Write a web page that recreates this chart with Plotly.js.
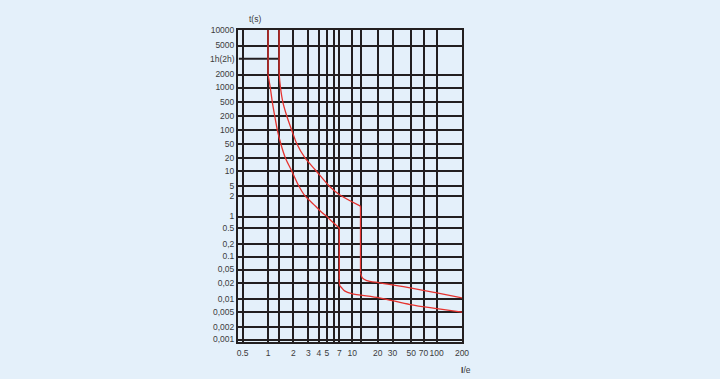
<!DOCTYPE html>
<html>
<head>
<meta charset="utf-8">
<script src="https://cdn.plot.ly/plotly-3.0.1.min.js"></script>
<style>
  html, body { margin: 0; padding: 0; background: #e4f0fa; }
  #chart { width: 720px; height: 379px; }
</style>
</head>
<body>
<div id="chart"></div>
<script>
// ---- Data ----
// X axis: multiples of rated current (I/Ie)
const xGridVals = [0.5, 1, 1.35, 2, 3, 4, 5, 6, 7, 10, 12.5, 20, 30, 50, 70, 100, 200];
const xGridText = ['0.5', '1', '', '2', '3', '4', '5', '', '7', '10', '', '20', '30', '50', '70', '100', '200'];

// Y axis: trip time in seconds (schematic, non-uniform scale)
const yTickTimes  = [10000, 5000, 3600, 2000, 1000, 500, 200, 100, 50, 20, 10, 5, 2, 1, 0.5, 0.2, 0.1, 0.05, 0.02, 0.01, 0.005, 0.002, 0.001];
const yTickLabels = ['10000', '5000', '1h(2h)', '2000', '1000', '500', '200', '100', '50', '20', '10', '5', '2', '1', '0.5', '0,2', '0.1', '0,05', '0,02', '0,01', '0,005', '0,002', '0,001'];

// Lower (minimum) tripping curve: thermal vertical, thermal curve, magnetic vertical, tail
const lowVertX  = [1.0, 1.0];
const lowVertT  = [10000, 2000];
const lowThermX = [1.0, 1.062, 1.122, 1.20, 1.287, 1.416, 1.602, 1.914, 2.319, 2.733, 3.664, 4.355, 4.994, 5.42, 7.0];
const lowThermT = [2000, 1000, 500, 200, 100, 50, 20, 10, 5, 2, 1.41, 1.14, 1.0, 0.836, 0.5];
const lowMagX   = [7.0, 7.0];
const lowMagT   = [0.5, 0.025];
const lowTailX  = [7.0, 7.1, 7.47, 8.18, 9.82, 20.9, 48.5, 100.8, 200];
const lowTailT  = [0.025, 0.0178, 0.0161, 0.0139, 0.0125, 0.0104, 0.0074, 0.006, 0.005];

// Upper (maximum) tripping curve
const highVertX  = [1.352, 1.352];
const highVertT  = [10000, 2400];
const highThermX = [1.352, 1.357, 1.404, 1.496, 1.669, 1.93, 2.195, 2.733, 3.664, 5.42, 7.13, 12.5];
const highThermT = [2400, 2000, 1000, 500, 200, 93, 50, 20, 10.5, 4.64, 2.14, 1.41];
const highMagX   = [12.5, 12.5];
const highMagT   = [1.41, 0.0406];
const highTailX  = [12.5, 13.13, 14.82, 20.9, 48.5, 100.8, 200];
const highTailT  = [0.0406, 0.0282, 0.0234, 0.02, 0.0161, 0.0129, 0.0104];

// Partial "1h(2h)" grid line (from left edge to the upper curve)
const hourLineX = [0.45, 1.352];
const hourLineT = [3600, 3600];

// ---- Schematic y scale (layout) ----
const yScalePos = [312, 296.5, 283.2, 267.5, 254.5, 240.2, 226, 212.2, 198.2, 184.3, 170.8, 156, 146.3, 125.5, 113.9, 97.9, 85.5, 72.5, 59.2, 43.3, 29.8, 14.9, 2.5];

function toAxis(t) {
  const lt = Math.log10(t);
  for (let i = 0; i < yTickTimes.length - 1; i++) {
    const a = Math.log10(yTickTimes[i]), b = Math.log10(yTickTimes[i + 1]);
    if (lt <= a && lt >= b) {
      const f = (a - lt) / (a - b);
      return yScalePos[i] + f * (yScalePos[i + 1] - yScalePos[i]);
    }
  }
  return lt > Math.log10(yTickTimes[0]) ? yScalePos[0] : yScalePos[yScalePos.length - 1];
}

const INK = '#231f20';
const RED = '#e5332f';
const TXT = '#3c3c3c';
const FONT = 'Liberation Sans, Arial, sans-serif';

const gridTickVals = [], gridTickText = [];
yTickTimes.forEach((t, i) => {
  if (t !== 3600) { gridTickVals.push(yScalePos[i]); gridTickText.push(yTickLabels[i]); }
});
const hourIdx = yTickTimes.indexOf(3600);

function seg(xs, ts, smooth, color, width) {
  return {
    x: xs, y: ts.map(toAxis), mode: 'lines',
    line: smooth ? { color: color, width: width, shape: 'spline', smoothing: 0.8 } : { color: color, width: width },
    hoverinfo: 'skip', showlegend: false
  };
}

const traces = [
  seg(hourLineX, hourLineT, false, INK, 2),
  seg(lowVertX, lowVertT, false, RED, 1.3),
  seg(lowThermX, lowThermT, true, RED, 1.3),
  seg(lowMagX, lowMagT, false, RED, 1.3),
  seg(lowTailX, lowTailT, true, RED, 1.3),
  seg(highVertX, highVertT, false, RED, 1.3),
  seg(highThermX, highThermT, true, RED, 1.3),
  seg(highMagX, highMagT, false, RED, 1.3),
  seg(highTailX, highTailT, true, RED, 1.3)
];

const layout = {
  width: 720, height: 379,
  margin: { l: 238, r: 258, t: 30, b: 37, pad: 0 },
  paper_bgcolor: '#e4f0fa',
  plot_bgcolor: '#e4f0fa',
  font: { family: FONT, size: 8.5, color: TXT },
  showlegend: false,
  xaxis: {
    type: 'log',
    range: [Math.log10(0.44), Math.log10(200)],
    tickmode: 'array', tickvals: xGridVals, ticktext: xGridText,
    tickangle: 0,
    showgrid: true, gridcolor: INK, gridwidth: 2,
    showline: true, linecolor: INK, linewidth: 2, mirror: true,
    ticks: '', zeroline: false, ticklabelstandoff: 2,
    tickfont: { family: FONT, size: 8.5, color: TXT }
  },
  yaxis: {
    type: 'linear',
    range: [0, 312],
    tickmode: 'array', tickvals: gridTickVals, ticktext: gridTickText,
    showgrid: true, gridcolor: INK, gridwidth: 2,
    showline: true, linecolor: INK, linewidth: 2, mirror: true,
    ticks: '', zeroline: false, ticklabelstandoff: 0,
    tickfont: { family: FONT, size: 8.5, color: TXT }
  },
  annotations: [
    { text: yTickLabels[hourIdx], xref: 'paper', yref: 'y', x: 0, y: yScalePos[hourIdx], xanchor: 'right', yanchor: 'middle', xshift: -1, showarrow: false, font: { family: FONT, size: 8.5, color: TXT } },
    { text: 't(s)', xref: 'paper', yref: 'paper', x: 0.076, y: 1.0, yshift: 4, xanchor: 'center', yanchor: 'bottom', showarrow: false, font: { family: FONT, size: 8.5, color: TXT } },
    { text: '<b>I</b>/e', xref: 'paper', yref: 'paper', x: 1.0, y: 0, xshift: 4, yshift: -21, xanchor: 'center', yanchor: 'top', showarrow: false, font: { family: FONT, size: 8.5, color: TXT } }
  ]
};

Plotly.newPlot('chart', traces, layout, { displayModeBar: false, staticPlot: true });
</script>
</body>
</html>
